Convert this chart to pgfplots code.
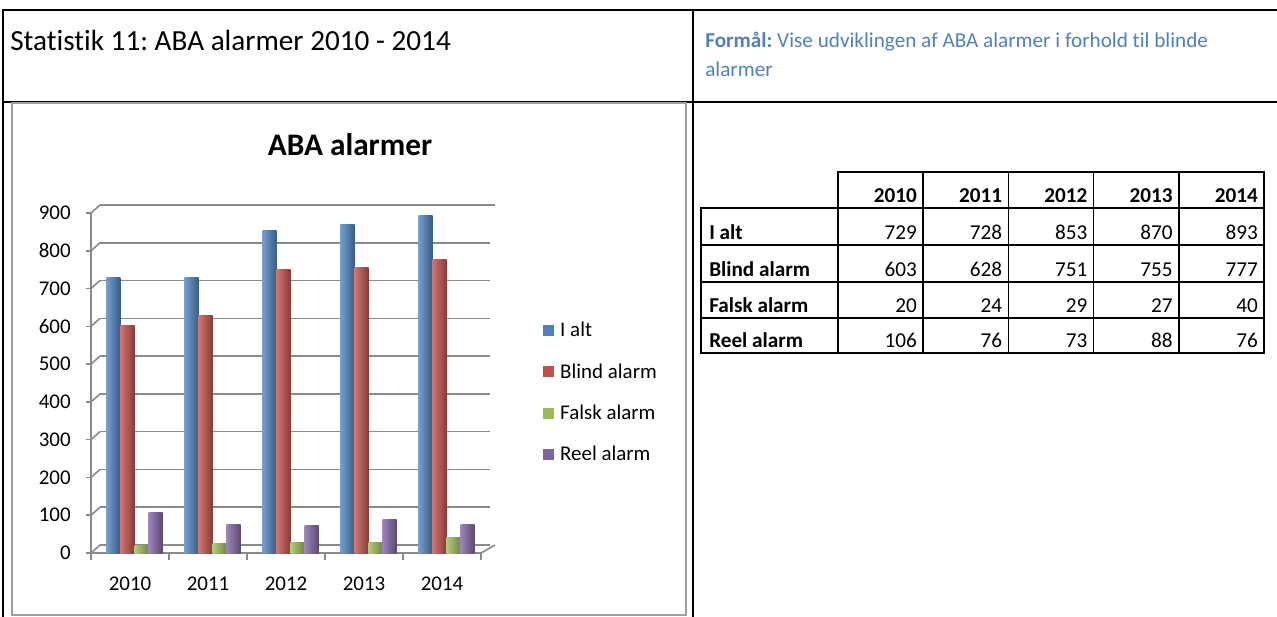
\documentclass[border=0pt]{standalone}
\usepackage{fontspec}
\setmainfont{Carlito}[Ligatures=NoCommon]
\usepackage{pgfplots}
\pgfplotsset{compat=1.18}
\definecolor{cBlue}{HTML}{4F81BD}
\definecolor{cRed}{HTML}{C0504D}
\definecolor{cGreen}{HTML}{9BBB59}
\definecolor{cPurple}{HTML}{8064A2}
\definecolor{gridgray}{HTML}{8A8A8A}
\definecolor{boxgray}{HTML}{A0A0A0}
\definecolor{txtblue}{HTML}{4F81BD}
\newcommand\bodyfont{\fontsize{15.9pt}{19pt}\selectfont}
\newcommand\chartfont{\fontsize{15.7pt}{18.8pt}\selectfont}
\newcommand\titlefont{\fontsize{21.9pt}{26pt}\selectfont}
\newcommand\charttitlefont{\fontsize{23.5pt}{28pt}\selectfont}
% one cylinder-like bar: colour, shift, coordinates
\newcommand\cylbar[3]{\addplot[ybar, bar width=10.5pt, bar shift=#2, draw=none, forget plot,
  left color=#1!78!white, middle color=#1, right color=#1!72!black] coordinates {#3};}
\frenchspacing
\begin{document}
\begin{tikzpicture}[x=0.75pt,y=-0.75pt]
\useasboundingbox (0,0) rectangle (1277,617);
% outer document table
\draw[line width=1.5pt] (3,617) -- (3,10) -- (1277,10);
\draw[line width=1.5pt] (3,102) -- (1277,102);
\draw[line width=1.5pt] (693,10) -- (693,617);
% chart frame
\draw[boxgray, line width=1.2pt] (12,103) rectangle (686,615);
% header texts
\node[anchor=base west, font=\titlefont, inner sep=0pt] at (10,51) {Statistik 11: ABA alarmer 2010 - 2014};
\node[anchor=base west, font=\bodyfont, text=txtblue, inner sep=0pt] at (705,48) {\textbf{Formål:} Vise udviklingen af ABA alarmer i forhold til blinde};
\node[anchor=base west, font=\bodyfont, text=txtblue, inner sep=0pt] at (705,77) {alarmer};
% chart title
\node[font=\bfseries\charttitlefont] at (350,145) {ABA alarmer};
% data table
\draw[line width=1.1pt] (838,172) rectangle (1264,353);
\draw[line width=1.1pt] (701,208) rectangle (1264,353);
\foreach \k in {1,...,4} {\draw[line width=1.1pt] ({838+85.2*\k},172) -- ({838+85.2*\k},353);}
\foreach \yy in {245,282,318} {\draw[line width=1.1pt] (701,\yy) -- (1264,\yy);}
\foreach \yr [count=\i] in {2010,2011,2012,2013,2014} {
  \node[anchor=base east, font=\bfseries\bodyfont, inner sep=0pt] at ({838+85.2*\i-6},202) {\yr};
}
\foreach \lab/\vals/\yb in {{I alt}/{729,728,853,870,893}/239,
                            {Blind alarm}/{603,628,751,755,777}/276,
                            {Falsk alarm}/{20,24,29,27,40}/312,
                            {Reel alarm}/{106,76,73,88,76}/347} {
  \node[anchor=base west, font=\bfseries\bodyfont, inner sep=0pt] at (709,\yb) {\lab};
  \foreach \v [count=\j] in \vals {
    \node[anchor=base east, font=\bodyfont, inner sep=0pt] at ({838+85.2*\j-6},\yb) {\v};
  }
}
\coordinate (axorig) at (91,553);
% chart
\begin{scope}[x=1cm,y=1cm]
\begin{axis}[
  at={(axorig)}, anchor=south west, scale only axis,
  width=292.5pt, height=255pt,
  xmin=-0.5, xmax=4.5, ymin=0, ymax=900,
  axis x line*=bottom, axis y line*=left,
  axis line style={gridgray, line width=1.2pt},
  ytick={0,100,...,900},
  xtick={0,1,2,3,4}, xticklabels={2010,2011,2012,2013,2014},
  minor xtick={-0.5,0.5,1.5,2.5,3.5,4.5},
  tick align=outside,
  major tick length=3.75pt,
  minor tick length=5.25pt,
  major x tick style={draw=none},
  minor x tick style={gridgray, line width=1.2pt},
  y tick style={gridgray, line width=1.2pt},
  ymajorgrids,
  major grid style={gridgray, line width=1.2pt, xshift=6.75pt, yshift=6pt, shorten >=-3.75pt},
  /pgf/number format/assume math mode=true,
  ticklabel style={font=\chartfont},
  yticklabel style={xshift=-8pt},
  xticklabel style={yshift=-11pt},
  clip=false,
  legend image code/.code={\fill[#1] (0pt,-4.1pt) rectangle (8.2pt,4.1pt); \path (0pt,0pt) -- (11pt,0pt);},
  legend style={at={(1.158,0.688)}, anchor=north west, draw=none, fill=none,
    inner sep=0pt, font=\chartfont, row sep=14.7pt, legend cell align=left},
]
\pgfplotsinvokeforeach{0,100,...,900}{\draw[gridgray, line width=1.2pt] (axis cs:-0.5,#1) -- ++(6.75pt,6pt);}
\draw[gridgray, line width=1.2pt] (axis cs:4.5,0) -- ++(10.5pt,6pt);
% I alt
\cylbar{cBlue}{-12.375pt}{(0,729)}
\cylbar{cBlue}{-12.375pt}{(1,728)}
\cylbar{cBlue}{-12.375pt}{(2,853)}
\cylbar{cBlue}{-12.375pt}{(3,870)}
\cylbar{cBlue}{-12.375pt}{(4,893)}
% Blind alarm
\cylbar{cRed}{-1.875pt}{(0,603)}
\cylbar{cRed}{-1.875pt}{(1,628)}
\cylbar{cRed}{-1.875pt}{(2,751)}
\cylbar{cRed}{-1.875pt}{(3,755)}
\cylbar{cRed}{-1.875pt}{(4,777)}
% Falsk alarm
\cylbar{cGreen}{8.625pt}{(0,20)}
\cylbar{cGreen}{8.625pt}{(1,24)}
\cylbar{cGreen}{8.625pt}{(2,29)}
\cylbar{cGreen}{8.625pt}{(3,27)}
\cylbar{cGreen}{8.625pt}{(4,40)}
% Reel alarm
\cylbar{cPurple}{19.125pt}{(0,106)}
\cylbar{cPurple}{19.125pt}{(1,76)}
\cylbar{cPurple}{19.125pt}{(2,73)}
\cylbar{cPurple}{19.125pt}{(3,88)}
\cylbar{cPurple}{19.125pt}{(4,76)}
\addlegendimage{fill=cBlue, draw=none}\addlegendentry{I alt}
\addlegendimage{fill=cRed, draw=none}\addlegendentry{Blind alarm}
\addlegendimage{fill=cGreen, draw=none}\addlegendentry{Falsk alarm}
\addlegendimage{fill=cPurple, draw=none}\addlegendentry{Reel alarm}
\end{axis}
\end{scope}
\end{tikzpicture}
\end{document}
